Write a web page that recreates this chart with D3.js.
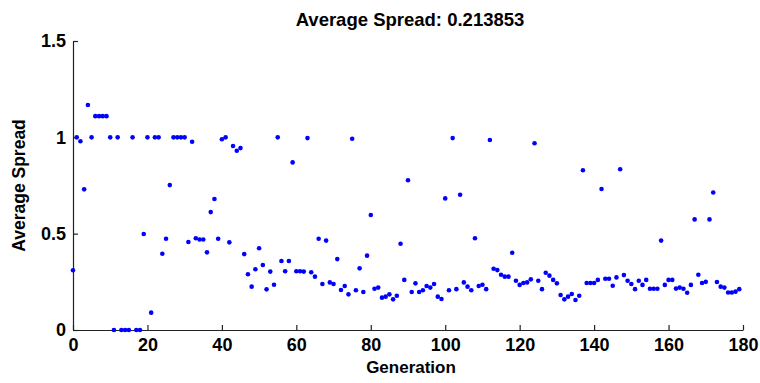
<!DOCTYPE html>
<html>
<head>
<meta charset="utf-8">
<script src="https://cdn.jsdelivr.net/npm/d3@7"></script>
<style>
  body { margin: 0; background: #fff; }
  svg { display: block; font-family: "Liberation Sans", Arial, sans-serif; }
</style>
</head>
<body>
<div id="chart"></div>
<script>
const titleText = "Average Spread: 0.213853";
const xLabel = "Generation";
const yLabel = "Average Spread";

// one value per generation, generation = index
const spread = [
    0.31, 1.0, 0.98, 0.73, 1.168, 1.0, 1.11, 1.11, 1.11, 1.11,
    1.0, 0, 1.0, 0, 0, 0, 1.0, 0, 0, 0.498,
    1.0, 0.09, 1.0, 1.0, 0.396, 0.474, 0.752, 1.0, 1.0, 1.0,
    1.0, 0.457, 0.977, 0.476, 0.47, 0.47, 0.403, 0.612, 0.68, 0.474,
    0.99, 1.0, 0.455, 0.955, 0.93, 0.944, 0.394, 0.289, 0.225, 0.315,
    0.424, 0.337, 0.211, 0.303, 0.235, 1.0, 0.358, 0.305, 0.358, 0.87,
    0.305, 0.305, 0.303, 0.996, 0.3, 0.277, 0.474, 0.239, 0.464, 0.247,
    0.239, 0.368, 0.208, 0.228, 0.185, 0.993, 0.206, 0.32, 0.197, 0.386,
    0.597, 0.214, 0.22, 0.168, 0.173, 0.185, 0.159, 0.178, 0.448, 0.26,
    0.777, 0.197, 0.242, 0.197, 0.206, 0.228, 0.22, 0.239, 0.173, 0.161,
    0.683, 0.206, 0.996, 0.212, 0.702, 0.247, 0.225, 0.206, 0.476, 0.228,
    0.235, 0.212, 0.986, 0.318, 0.311, 0.287, 0.277, 0.277, 0.401, 0.256,
    0.234, 0.244, 0.247, 0.263, 0.969, 0.256, 0.212, 0.297, 0.282, 0.26,
    0.242, 0.182, 0.159, 0.173, 0.187, 0.156, 0.178, 0.829, 0.244, 0.244,
    0.244, 0.26, 0.732, 0.266, 0.266, 0.23, 0.273, 0.834, 0.285, 0.256,
    0.239, 0.212, 0.256, 0.234, 0.26, 0.214, 0.214, 0.214, 0.464, 0.234,
    0.26, 0.26, 0.215, 0.22, 0.214, 0.193, 0.234, 0.574, 0.287, 0.244,
    0.25, 0.574, 0.714, 0.249, 0.225, 0.22, 0.195, 0.195, 0.199, 0.212
];

const xTicks = [0, 20, 40, 60, 80, 100, 120, 140, 160, 180];
const yTicks = [0, 0.5, 1, 1.5];
const yTickLabels = ["0", "0.5", "1", "1.5"];

const width = 760;
const height = 383;
const margin = { top: 41, right: 17, bottom: 53, left: 73 };

const svg = d3.select("#chart").append("svg")
    .attr("width", width)
    .attr("height", height);

const x = d3.scaleLinear()
    .domain([0, 180])
    .range([margin.left, width - margin.right]);

const y = d3.scaleLinear()
    .domain([0, 1.5])
    .range([height - margin.bottom, margin.top]);

// Axes (MATLAB style, ticks pointing inward, box off)
svg.append("g")
    .attr("transform", `translate(0, ${height - margin.bottom})`)
    .call(d3.axisBottom(x).tickValues(xTicks).tickSizeInner(-5).tickSizeOuter(0).tickPadding(8));

svg.append("g")
    .attr("transform", `translate(${margin.left}, 0)`)
    .call(d3.axisLeft(y).tickValues(yTicks).tickFormat((d, i) => yTickLabels[i])
        .tickSizeInner(-5).tickSizeOuter(0).tickPadding(7));

svg.selectAll(".domain, .tick line")
    .attr("stroke", "#222")
    .attr("stroke-width", 1.2);

svg.selectAll(".tick text")
    .attr("fill", "#000")
    .style("font-size", "18px")
    .style("font-weight", "bold")
    .style("font-family", "'Liberation Sans', Arial, sans-serif");

// Points
svg.append("g")
    .selectAll("circle")
    .data(spread)
    .join("circle")
    .attr("cx", (d, i) => x(i))
    .attr("cy", (d) => y(d))
    .attr("r", 2.3)
    .attr("fill", "#0000ff");

// Title and labels
svg.append("text")
    .attr("x", 410)
    .attr("y", 26)
    .attr("text-anchor", "middle")
    .style("font-size", "18.5px")
    .style("font-weight", "bold")
    .text(titleText);

svg.append("text")
    .attr("x", (x(0) + x(180)) / 2 + 3)
    .attr("y", 373)
    .attr("text-anchor", "middle")
    .style("font-size", "17px")
    .style("font-weight", "bold")
    .text(xLabel);

svg.append("text")
    .attr("transform", `translate(25, ${(y(0) + y(1.5)) / 2}) rotate(-90)`)
    .attr("text-anchor", "middle")
    .style("font-size", "17.5px")
    .style("font-weight", "bold")
    .text(yLabel);
</script>
</body>
</html>
